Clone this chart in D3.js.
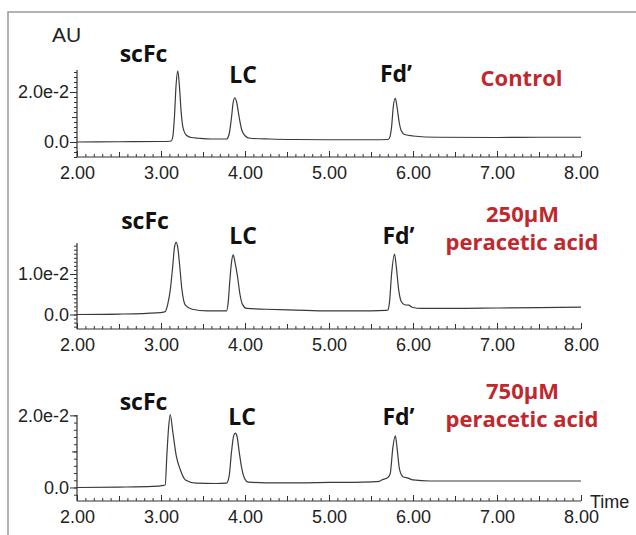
<!DOCTYPE html>
<html><head><meta charset="utf-8">
<script src="https://cdn.jsdelivr.net/npm/d3@7"></script>
<style>body{margin:0;background:#fff}svg{display:block}</style>
</head><body>
<script>
// ---------- DATA ----------
const xTickLabels = ["2.00","3.00","4.00","5.00","6.00","7.00","8.00"];
const xTickValues = [2,3,4,5,6,7,8];

const panelNames = ["Control", "250\u00B5M|peracetic acid", "750\u00B5M|peracetic acid"];
const peakLabels = ["scFc", "LC", "Fd\u2019"];

const controlTime = [2.0,2.5,3.0,3.1,3.12,3.14,3.16,3.18,3.20,3.22,3.24,3.26,3.30,3.36,3.45,3.6,3.75,3.78,3.81,3.84,3.86,3.88,3.90,3.93,3.96,4.00,4.06,4.3,4.6,5.0,5.5,5.70,5.72,5.745,5.765,5.79,5.81,5.835,5.86,5.90,6.0,6.3,7.0,7.5,8.0];
const controlAU   = [0.0000,0.0001,0.0002,0.0003,0.0004,0.002,0.010,0.023,0.0285,0.022,0.012,0.0061,0.0028,0.0018,0.0015,0.0012,0.0012,0.0012,0.003,0.010,0.016,0.0177,0.016,0.010,0.005,0.0025,0.0015,0.0012,0.0010,0.0009,0.0009,0.0010,0.0016,0.006,0.014,0.0175,0.014,0.008,0.0045,0.0030,0.0024,0.0019,0.0018,0.0019,0.0019];

const p250Time = [2.0,2.5,2.95,3.03,3.05,3.08,3.11,3.14,3.16,3.18,3.20,3.22,3.25,3.29,3.37,3.55,3.72,3.78,3.80,3.82,3.84,3.86,3.88,3.91,3.94,3.97,4.02,4.25,4.6,5.0,5.5,5.68,5.70,5.72,5.745,5.78,5.80,5.83,5.86,5.90,5.95,5.99,6.1,6.5,7.0,7.5,8.0];
const p250AU   = [0.0000,0.0001,0.0004,0.0006,0.0007,0.0025,0.006,0.012,0.0165,0.0178,0.0165,0.0126,0.006,0.0023,0.0013,0.0009,0.0009,0.0009,0.003,0.0085,0.013,0.0147,0.013,0.0095,0.005,0.0025,0.0015,0.0013,0.0011,0.0009,0.0009,0.0010,0.0011,0.003,0.010,0.0149,0.012,0.006,0.0032,0.0024,0.0023,0.0018,0.0015,0.0015,0.0016,0.0017,0.0018];

const p750Time = [2.0,2.5,2.9,3.03,3.05,3.07,3.09,3.11,3.14,3.18,3.23,3.29,3.42,3.65,3.78,3.81,3.84,3.865,3.885,3.905,3.93,3.96,3.99,4.04,4.25,4.6,5.0,5.4,5.6,5.64,5.68,5.71,5.73,5.76,5.79,5.81,5.84,5.88,5.94,6.0,6.2,7.0,8.0];
const p750AU   = [0.0000,0.0001,0.0003,0.0006,0.0007,0.009,0.0165,0.0202,0.0155,0.009,0.0049,0.0021,0.0012,0.0011,0.0012,0.003,0.010,0.0143,0.0151,0.0142,0.010,0.0055,0.0028,0.0015,0.0013,0.0013,0.0014,0.0015,0.0017,0.0022,0.0025,0.0030,0.004,0.011,0.0143,0.011,0.005,0.003,0.0026,0.0021,0.0018,0.0018,0.0018];

const yMajor = [[0,0.02],[0,0.01],[0,0.02]];
const yMajorLabels = [["0.0","2.0e-2"],["0.0","1.0e-2"],["0.0","2.0e-2"]];

// ---------- LAYOUT ----------
const W = 636, H = 535;
const svg = d3.select("body").append("svg").attr("width", W).attr("height", H);

// frame
svg.append("path").attr("d","M8,535V12H636").attr("fill","none").attr("stroke","#999").attr("stroke-width",1.5);

const x = d3.scaleLinear().domain([2,8]).range([77,581]);

const panels = [
  {time: controlTime, au: controlAU, dom:[-0.006,0.0288], rng:[157,70], minorStep:0.002, medium:0.01,
   labels:[[143.5,62],[243,82.5],[396,82]], name:[[521.5,86]]},
  {time: p250Time, au: p250AU, dom:[-0.00358,0.01765], rng:[329,243], minorStep:0.001, medium:0.005,
   labels:[[145,229],[243,243.5],[398.5,243.5]], name:[[522.5,222],[522,250]]},
  {time: p750Time, au: p750AU, dom:[-0.00375,0.0201], rng:[501,415], minorStep:0.002, medium:0.01,
   labels:[[143.5,410],[242,425],[398.5,425]], name:[[522.5,398.5],[522,426.5]]}
];

const tickFont = "'Liberation Sans', Arial, sans-serif";
const boldFont = "'Open Sans', Calibri, sans-serif";

panels.forEach((p, i) => {
  const y = d3.scaleLinear().domain(p.dom).range(p.rng);
  const g = svg.append("g");
  const axisY = p.rng[0];

  // x-axis ticks (pointing up)
  const xMinor = d3.range(20, 81).map(v => v/10).filter(v => Math.abs(v*2 - Math.round(v*2)) > 1e-6);
  const xHalf = [2.5,3.5,4.5,5.5,6.5,7.5];
  const addX = (vals, size) => {
    const a = g.append("g").attr("transform",`translate(0,${axisY})`)
      .call(d3.axisTop(x).tickValues(vals).tickSize(size).tickSizeOuter(0).tickFormat(""));
    a.select(".domain").remove();
    a.selectAll("line").attr("stroke","#333");
  };
  addX(xMinor, 3); addX(xHalf, 5); addX(xTickValues, 6);
  const xl = g.append("g").attr("transform",`translate(0,${axisY})`)
    .call(d3.axisBottom(x).tickValues(xTickValues).tickSize(0).tickPadding(9).tickFormat((d,k)=>xTickLabels[k]));
  xl.select(".domain").remove();
  xl.selectAll("text").attr("font-family",tickFont).attr("font-size",18).attr("fill","#222");
  g.append("line").attr("x1",x(2)).attr("x2",x(8)).attr("y1",axisY).attr("y2",axisY).attr("stroke","#333").attr("stroke-width",1.2);

  // y-axis
  const n0 = Math.ceil(p.dom[0]/p.minorStep - 1e-6), n1 = Math.floor(p.dom[1]/p.minorStep + 1e-6);
  const yMinor = d3.range(n0, n1+1).map(k => k*p.minorStep);
  const addY = (vals, size, labels) => {
    const a = g.append("g").attr("transform",`translate(${x(2)},0)`)
      .call(d3.axisLeft(y).tickValues(vals).tickSize(size).tickSizeOuter(0).tickPadding(1)
        .tickFormat(labels ? ((d,k)=>labels[k]) : ""));
    a.select(".domain").remove();
    a.selectAll("line").attr("stroke","#333");
    a.selectAll("text").attr("font-family",tickFont).attr("font-size",18).attr("fill","#222");
  };
  addY(yMinor, 3); addY([p.medium], 5); addY(yMajor[i], 7, yMajorLabels[i]);
  g.append("line").attr("x1",x(2)).attr("x2",x(2)).attr("y1",p.rng[1]).attr("y2",axisY).attr("stroke","#333").attr("stroke-width",1.2);

  // trace
  const data = p.time.map((t,k)=>[t,p.au[k]]);
  g.append("path").datum(data)
    .attr("d", d3.line().x(d=>x(d[0])).y(d=>y(d[1])).curve(d3.curveMonotoneX))
    .attr("fill","none").attr("stroke","#3a3a3a").attr("stroke-width",1.2);

  // peak labels
  p.labels.forEach((pos,k)=>{
    g.append("text").attr("x",pos[0]).attr("y",pos[1]).attr("text-anchor","middle")
      .attr("font-family",boldFont).attr("font-weight","bold").attr("font-size",23).attr("fill","#111")
      .text(peakLabels[k]);
  });
  // condition label
  panelNames[i].split("|").forEach((s,k)=>{
    g.append("text").attr("x",p.name[k][0]).attr("y",p.name[k][1]).attr("text-anchor","middle")
      .attr("font-family",boldFont).attr("font-weight","bold").attr("font-size",22).attr("fill","#c0282d")
      .text(s);
  });
});

svg.append("text").attr("x",52).attr("y",42).attr("font-family",tickFont).attr("font-size",21).attr("fill","#222").text("AU");
svg.append("text").attr("x",590).attr("y",508).attr("font-family",tickFont).attr("font-size",18).attr("fill","#222").text("Time");
</script>
</body></html>
